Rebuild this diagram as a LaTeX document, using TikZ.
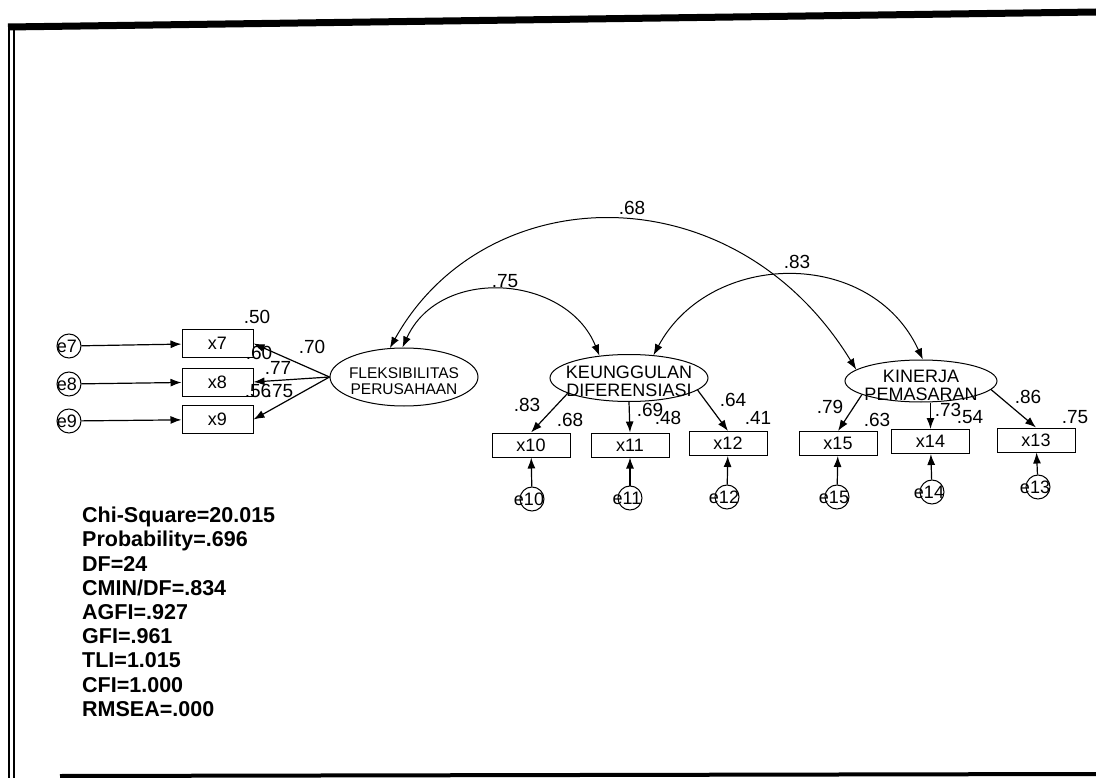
\documentclass[tikz,border=0pt]{standalone}
\usepackage{fontspec}
\setmainfont{Liberation Sans}
\usetikzlibrary{arrows.meta,shapes.geometric,calc}
\newcommand{\myfs}[1]{\fontsize{#1}{#1}\selectfont}
\begin{document}
\begin{tikzpicture}[x=1pt,y=-1pt,
  obs/.style={draw,rectangle,line width=1pt,minimum width=78pt,minimum height=24pt,inner sep=0pt,font=\myfs{18}},
  obsl/.style={obs,minimum width=71pt,minimum height=28pt},
  err/.style={draw,circle,line width=1pt,minimum size=24pt,inner sep=0pt},
  elab/.style={font=\myfs{18},inner sep=0pt},
  lat/.style={draw,ellipse,line width=1pt,inner sep=0pt},
  lattext/.style={font=\myfs{18},align=center,inner sep=0pt},
  arr/.style={-{Latex[length=11pt,width=8pt]},line width=1.2pt},
  cov/.style={{Latex[length=11pt,width=8pt]}-{Latex[length=11pt,width=8pt]},line width=1pt},
  lab/.style={font=\myfs{19},inner sep=0pt}]
\useasboundingbox (0,0) rectangle (1096,778);
\fill[white] (0,0) rectangle (1096,778);
% frame
\draw[line width=7pt] (8,27) -- (1096,12);
\draw[line width=2pt] (9,24) -- (9,778);
\draw[line width=2pt] (14,28) -- (14,778);
\draw[line width=4pt] (60,776) -- (1096,774);

% latent variables
\node[lat,minimum width=148pt,minimum height=58pt] (fl) at (404,377) {};
\node[lattext,font=\myfs{15.5}] (flt) at (404,381) {FLEKSIBILITAS\\PERUSAHAAN};
\node[lat,minimum width=158pt,minimum height=47pt] (ke) at (629,378) {};
\node[lattext] (ket) at (629,381) {KEUNGGULAN\\DIFERENSIASI};
\node[lat,minimum width=152pt,minimum height=42pt] (ki) at (921,381) {};
\node[lattext] (kit) at (921,385) {KINERJA\\PEMASARAN};

% observed left
\node[obsl] (x7) at (217.5,343.5) {x7};
\node[obsl] (x8) at (217.5,382) {x8};
\node[obsl] (x9) at (217.5,419.5) {x9};
\node[err,label={[elab,xshift=-2pt]center:e7}] (e7) at (69,346) {};
\node[err,label={[elab,xshift=-2pt]center:e8}] (e8) at (69,384) {};
\node[err,label={[elab,xshift=-2pt]center:e9}] (e9) at (69,421) {};
\draw[arr] (e7) -- (x7);
\draw[arr] (e8) -- (x8);
\draw[arr] (e9) -- (x9);
\draw[arr] (fl.west) -- (x7.east);
\draw[arr] (fl.west) -- (x8.east);
\draw[arr] (fl.west) -- (x9.east);

% observed bottom
\node[obs] (x10) at (531,445) {x10};
\node[obs] (x11) at (630,445) {x11};
\node[obs] (x12) at (728,443.5) {x12};
\node[obs] (x15) at (838,443.5) {x15};
\node[obs] (x14) at (930.5,441.5) {x14};
\node[obs] (x13) at (1036,440) {x13};
\node[err,label={[elab,xshift=-3pt]center:e10}] (e10) at (532,499) {};
\node[err,label={[elab,xshift=-3pt]center:e11}] (e11) at (630,498) {};
\node[err,label={[elab,xshift=-3pt]center:e12}] (e12) at (727,497) {};
\node[err,label={[elab,xshift=-3pt]center:e15}] (e15) at (837,497) {};
\node[err,label={[elab,xshift=-3pt]center:e14}] (e14) at (932,492) {};
\node[err,label={[elab,xshift=-3pt]center:e13}] (e13) at (1038,487) {};
\draw[arr] (e10) -- (x10);
\draw[arr] (e11) -- (x11);
\draw[arr] (e12) -- (x12);
\draw[arr] (e15) -- (x15);
\draw[arr] (e14) -- (x14);
\draw[arr] (e13) -- (x13);

\draw[arr] (ke.194) -- (x10.north);
\draw[arr] (ke.south) -- (x11.north);
\draw[arr] (ke.-10) -- (x12.north);
\draw[arr] (ki.193) -- (x15.north);
\draw[arr] (x14.north |- ki.south) -- (x14.north);
\draw[arr] (ki.-7) -- (x13.north);

% covariances
\draw[cov] (fl.116) .. controls (485,177) and (734,170) .. (ki.170);
\draw[cov] (fl.93) .. controls (440,265) and (567,275) .. (ke.143);
\draw[cov] (ke.43) .. controls (710,250) and (871,247) .. (ki.85);
\node[lab] (c68) at (632,208) {.68};
\node[lab] (c75) at (505,281) {.75};
\node[lab] (c83) at (797,262) {.83};

% loadings and R2
\node[lab] (r7) at (257,317) {.50};
\node[lab] (l7) at (312,347) {.70};
\node[lab] (r8) at (259,353) {.60};
\node[lab] (l8) at (278,368) {.77};
\node[lab] (r9) at (258,391) {.56};
\node[lab] (l9) at (280,391) {.75};
\node[lab] (l10) at (527,405) {.83};
\node[lab] (r10) at (570,420) {.68};
\node[lab] (l11) at (650,410) {.69};
\node[lab] (r11) at (668,418) {.48};
\node[lab] (l12) at (733,400) {.64};
\node[lab] (r12) at (758,418) {.41};
\node[lab] (l15) at (830,407) {.79};
\node[lab] (r15) at (877,420) {.63};
\node[lab] (l14) at (948,410) {.73};
\node[lab] (r14) at (970,417) {.54};
\node[lab] (l13) at (1028,397) {.86};
\node[lab] (r13) at (1075,417) {.75};

% fit statistics
\node[font=\bfseries\fontsize{21.5}{24.2}\selectfont,align=left,anchor=north west,inner sep=0pt] (fit) at (82,507)
{Chi-Square=20.015\\Probability=.696\\DF=24\\CMIN/DF=.834\\AGFI=.927\\GFI=.961\\TLI=1.015\\CFI=1.000\\RMSEA=.000};
\end{tikzpicture}
\end{document}
